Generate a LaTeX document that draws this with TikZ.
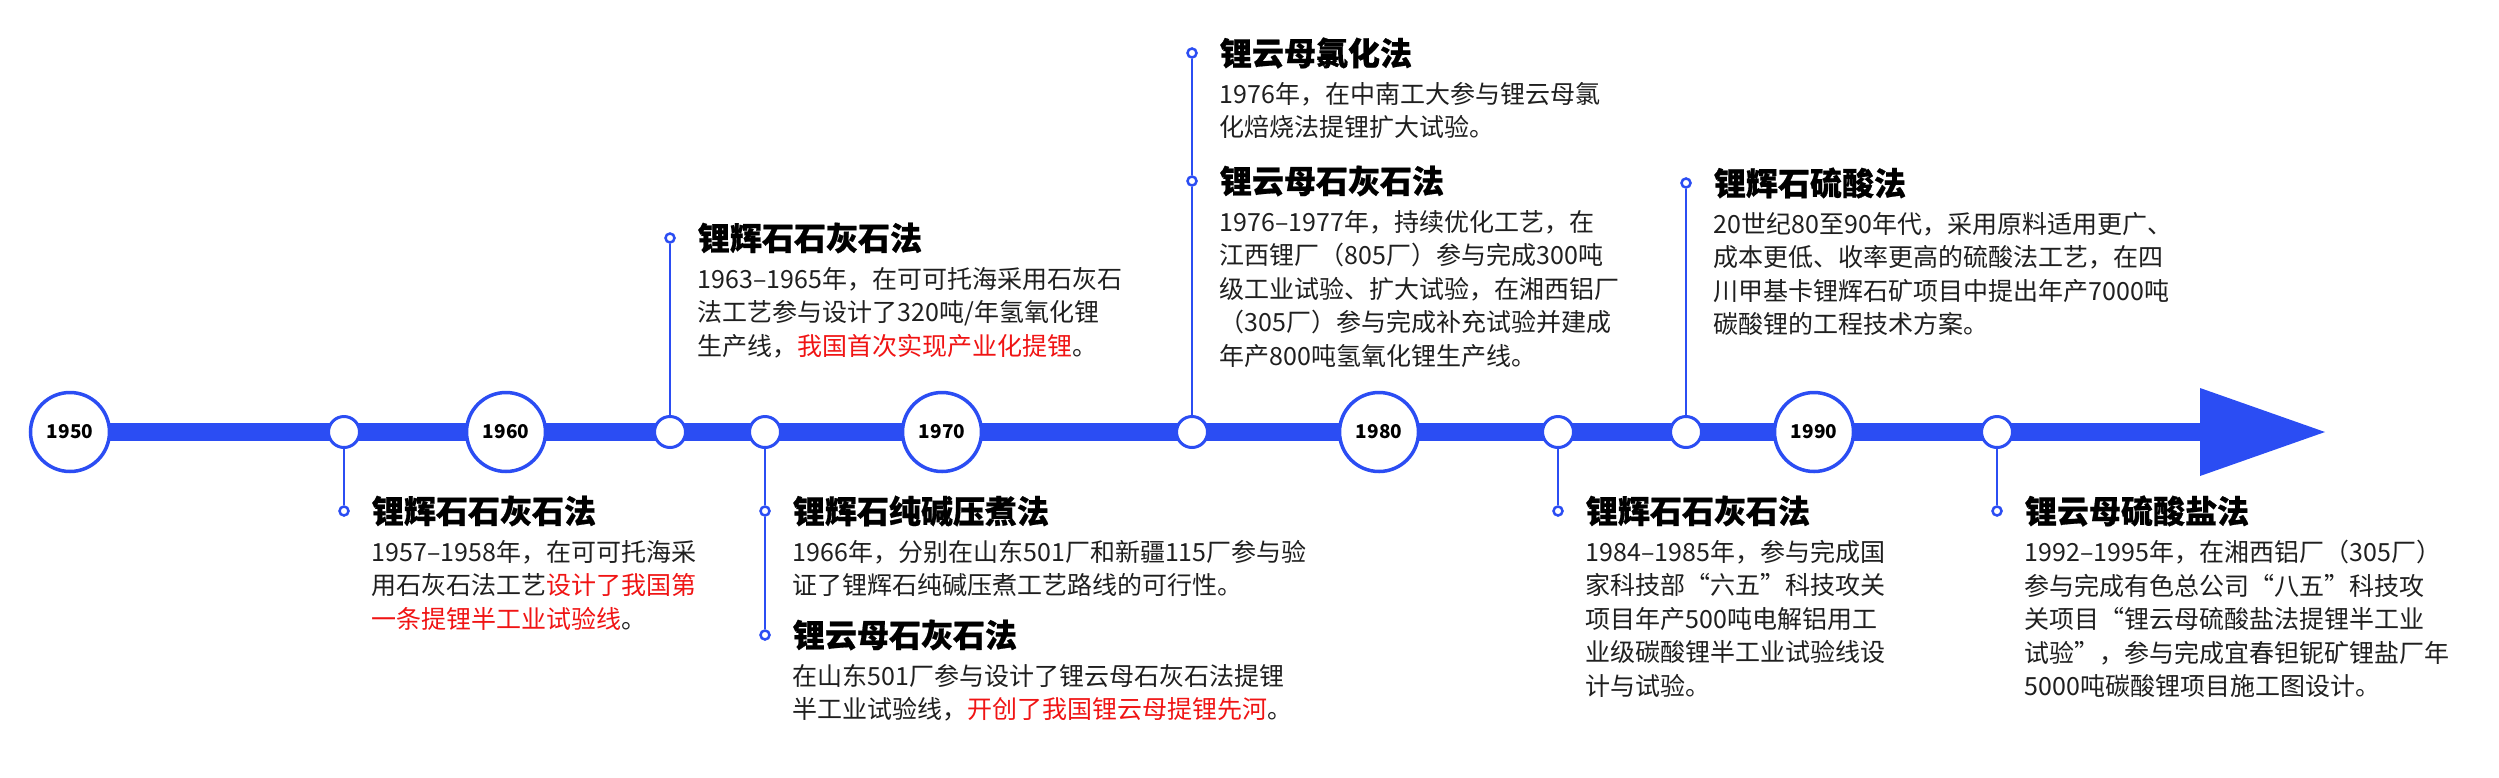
\documentclass[tikz,border=0pt]{standalone}
\usepackage{fontspec}
\setmainfont{Noto Sans CJK SC}
\newfontfamily\headfont{Noto Sans CJK SC}[BoldFeatures={FakeBold=0.6}]
\usetikzlibrary{positioning,backgrounds}
\definecolor{lineblue}{RGB}{43,77,243}
\definecolor{notered}{RGB}{240,20,20}
\newcommand{\hl}[1]{\textcolor{notered}{#1}}

\begin{document}
\begin{tikzpicture}[x=1pt, y=-1pt,
    year/.style={circle, draw=lineblue, line width=3.5pt, fill=white,
        minimum size=79pt, inner sep=0pt, font=\fontsize{19}{19}\selectfont\bfseries},
    joint/.style={circle, draw=lineblue, line width=3pt, fill=white,
        minimum size=31pt, inner sep=0pt},
    dot/.style={circle, draw=lineblue, line width=2.5pt, fill=white,
        minimum size=9pt, inner sep=0pt},
    pin/.style={draw=lineblue, line width=2pt},
    bar/.style={draw=lineblue, line width=18pt},
    title/.style={inner sep=0pt, font=\fontsize{32}{32}\headfont\bfseries},
    body/.style={inner sep=0pt, align=left, text=black!88,
        font=\fontsize{25}{33.5}\selectfont}
]
    \useasboundingbox (0,0) rectangle (2499,777);

    % years on the axis
    \node[year] (y1950) at (70,432) {1950};
    \node[year] (y1960) at (506,432) {1960};
    \node[year] (y1970) at (942,432) {1970};
    \node[year] (y1980) at (1379,432) {1980};
    \node[year] (y1990) at (1814,432) {1990};

    % joints of the pins
    \node[joint] (j1) at (344,432) {};
    \node[joint] (j2) at (670,432) {};
    \node[joint] (j3) at (765,432) {};
    \node[joint] (j4) at (1192,432) {};
    \node[joint] (j5) at (1558,432) {};
    \node[joint] (j6) at (1686,432) {};
    \node[joint] (j7) at (1997,432) {};

    \coordinate (barend) at (2200,432);
    \coordinate (tip) at (2325,432);
    \begin{scope}[on background layer]
        \draw[bar] (y1950.center) -- (barend);
        \fill[lineblue] ([yshift=44pt]barend) -- (tip) -- ([yshift=-44pt]barend) -- cycle;
    \end{scope}

    % dots
    \node[dot] (d1) at (344,511) {};
    \node[dot] (d2) at (670,238) {};
    \node[dot] (d3) at (765,511) {};
    \node[dot] (d4) at (765,635) {};
    \node[dot] (d5) at (1192,53) {};
    \node[dot] (d6) at (1192,181) {};
    \node[dot] (d7) at (1558,511) {};
    \node[dot] (d8) at (1686,183) {};
    \node[dot] (d9) at (1997,511) {};

    \draw[pin] (j1) -- (d1);
    \draw[pin] (j2) -- (d2);
    \draw[pin] (j3) -- (d3);
    \draw[pin] (d3) -- (d4);
    \draw[pin] (j4) -- (d6);
    \draw[pin] (d6) -- (d5);
    \draw[pin] (j5) -- (d7);
    \draw[pin] (j6) -- (d8);
    \draw[pin] (j7) -- (d9);

    % 1957-1958
    \node[title, right=22pt of d1] (t1) {锂辉石石灰石法};
    \node[body, below right=29pt and 0pt of t1.west] (b1)
        {1957–1958年，在可可托海采\\用石灰石法工艺\hl{设计了我国第}\\\hl{一条提锂半工业试验线}。};

    % 1963-1965
    \node[title, right=22pt of d2] (t2) {锂辉石石灰石法};
    \node[body, below right=29pt and 0pt of t2.west] (b2)
        {1963–1965年，在可可托海采用石灰石\\法工艺参与设计了320吨/年氢氧化锂\\生产线，\hl{我国首次实现产业化提锂}。};

    % 1966
    \node[title, right=22pt of d3] (t3) {锂辉石纯碱压煮法};
    \node[body, below right=29pt and 0pt of t3.west] (b3)
        {1966年，分别在山东501厂和新疆115厂参与验\\证了锂辉石纯碱压煮工艺路线的可行性。};
    \node[title, right=22pt of d4] (t4) {锂云母石灰石法};
    \node[body, below right=29pt and 0pt of t4.west] (b4)
        {在山东501厂参与设计了锂云母石灰石法提锂\\半工业试验线，\hl{开创了我国锂云母提锂先河}。};

    % 1976-1977
    \node[title, right=22pt of d5] (t5) {锂云母氯化法};
    \node[body, below right=29pt and 0pt of t5.west] (b5)
        {1976年，在中南工大参与锂云母氯\\化焙烧法提锂扩大试验。};
    \node[title, right=22pt of d6] (t6) {锂云母石灰石法};
    \node[body, below right=29pt and 0pt of t6.west] (b6)
        {1976–1977年，持续优化工艺，在\\江西锂厂（805厂）参与完成300吨\\级工业试验、扩大试验，在湘西铝厂\\（305厂）参与完成补充试验并建成\\年产800吨氢氧化锂生产线。};

    % 1984-1985
    \node[title, right=22pt of d7] (t7) {锂辉石石灰石法};
    \node[body, below right=29pt and 0pt of t7.west] (b7)
        {1984–1985年，参与完成国\\家科技部“六五”科技攻关\\项目年产500吨电解铝用工\\业级碳酸锂半工业试验线设\\计与试验。};

    % 80s-90s
    \node[title, right=22pt of d8] (t8) {锂辉石硫酸法};
    \node[body, below right=29pt and 0pt of t8.west] (b8)
        {20世纪80至90年代，采用原料适用更广、\\成本更低、收率更高的硫酸法工艺，在四\\川甲基卡锂辉石矿项目中提出年产7000吨\\碳酸锂的工程技术方案。};

    % 1992-1995
    \node[title, right=22pt of d9] (t9) {锂云母硫酸盐法};
    \node[body, below right=29pt and 0pt of t9.west] (b9)
        {1992–1995年，在湘西铝厂（305厂）\\参与完成有色总公司“八五”科技攻\\关项目“锂云母硫酸盐法提锂半工业\\试验”，参与完成宜春钽铌矿锂盐厂年\\5000吨碳酸锂项目施工图设计。};
\end{tikzpicture}
\end{document}
